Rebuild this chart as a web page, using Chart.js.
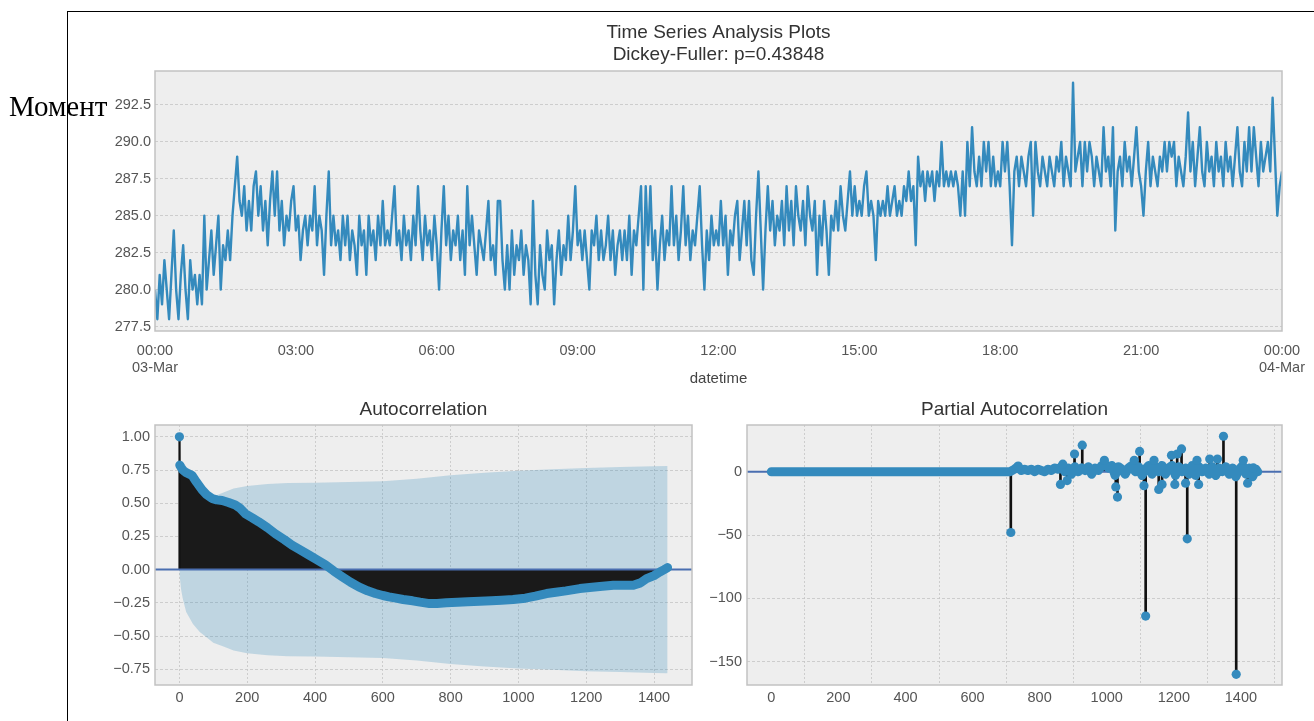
<!DOCTYPE html>
<html><head><meta charset="utf-8">
<script src="https://cdn.jsdelivr.net/npm/chart.js@4.4.1/dist/chart.umd.min.js"></script>
<style>
html,body{margin:0;padding:0;background:#fff;width:1314px;height:721px;overflow:hidden;}
body{position:relative;}
canvas{position:absolute;}
#c1{left:0;top:0;}
#c2{left:0;top:390px;}
#c3{left:700px;top:390px;}
#vline{position:absolute;left:67px;top:11px;width:1px;height:710px;background:#000;z-index:3;}
#hline{position:absolute;left:67px;top:11px;width:1247px;height:1px;background:#000;z-index:3;}
#moment{position:absolute;left:9px;top:92px;font-family:"Liberation Serif","Times New Roman",serif;font-size:29px;line-height:29px;color:#000;z-index:4;white-space:nowrap;}
</style></head>
<body>
<canvas id="c1" width="1314" height="390"></canvas>
<canvas id="c2" width="700" height="331"></canvas>
<canvas id="c3" width="614" height="331"></canvas>
<div id="vline"></div><div id="hline"></div>
<div id="moment">Момент</div>
<script>
// ---------- data ----------
const tsStepMinutes = 3;
const tsValues = [
 280,278,281,279,282,280,278,281,284,280,278,281,283,280,278,282,280,281,279,281,
 279,285,280,282,284,281,283,285,280,283,282,284,282,285,287,289,286,285,287,284,
 286,284,287,288,285,287,284,286,283,286,288,285,288,284,286,283,285,284,286,287,
 284,285,282,284,285,283,285,284,287,283,285,284,281,285,288,283,285,283,284,282,
 285,283,285,282,284,283,281,285,283,284,281,285,283,284,282,285,283,286,283,284,
 283,285,287,283,284,282,285,283,284,282,285,283,287,284,282,285,283,284,282,285,
 283,280,284,287,283,285,282,284,283,285,282,284,281,287,283,285,283,281,284,283,
 282,284,286,282,283,281,286,286,282,280,283,280,284,281,283,282,284,281,283,282,
 279,286,281,279,283,281,280,284,282,283,279,282,284,281,283,282,285,282,284,287,
 283,284,282,284,282,280,284,283,285,282,284,282,283,285,282,284,281,283,284,282,
 284,282,285,281,284,283,285,287,280,287,283,287,282,284,280,283,285,282,284,283,
 287,283,285,282,284,287,283,285,282,284,283,285,287,283,280,284,282,285,283,284,
 283,286,283,285,281,284,283,285,286,282,284,286,283,286,282,281,285,288,284,280,
 284,287,284,286,283,285,284,286,283,287,284,286,283,287,285,284,286,283,287,285,
 284,286,281,285,283,286,284,281,285,284,286,284,287,285,284,286,288,285,287,285,
 286,285,287,288,285,286,285,282,286,285,286,285,287,285,286,287,285,286,285,287,
 286,288,286,287,283,289,287,288,286,288,287,288,286,288,287,290,287,288,287,288,
 287,288,287,285,288,285,290,287,291,288,287,289,287,290,288,290,287,289,287,288,
 287,290,288,290,287,283,288,289,287,289,288,287,289,290,285,290,288,287,289,288,
 287,289,288,287,289,288,290,287,289,288,287,294,288,289,290,287,290,288,290,289,
 287,289,288,287,291,288,289,287,291,284,288,289,287,290,288,289,287,289,291,288,
 287,285,288,290,287,289,288,287,289,288,290,288,290,289,290,287,289,288,287,289,
 292,288,290,287,289,291,288,287,290,288,289,287,290,288,289,287,290,288,289,287,
 289,291,288,287,290,288,291,288,291,289,287,290,288,289,290,288,293,289,285,287,
 288];
const tsMinutes = tsValues.map((_, i) => i * tsStepMinutes);
const tsTickMinutes = [0,180,360,540,720,900,1080,1260,1440];
const tsTickLabels = [['00:00','03-Mar'],'03:00','06:00','09:00','12:00','15:00','18:00','21:00',['00:00','04-Mar']];
const tsYTicks = [277.5,280,282.5,285,287.5,290,292.5];
const titleLines = ['Time Series Analysis Plots','Dickey-Fuller: p=0.43848'];

const acfLags = [0,1,5,10,20,37,50,67,80,96,110,126,145,165,180,195,215,234,260,283,310,332,355,382,405,431,455,480,505,529,555,578,600,618,639,660,688,710,738,760,787,820,850,886,920,950,984,1020,1050,1083,1110,1140,1181,1210,1240,1280,1310,1339,1360,1378,1400,1417,1430,1440];
const acfValues = [1.0,0.787,0.77,0.75,0.73,0.71,0.66,0.60,0.565,0.536,0.525,0.52,0.505,0.486,0.46,0.42,0.39,0.36,0.315,0.27,0.225,0.185,0.15,0.11,0.075,0.035,-0.01,-0.053,-0.095,-0.13,-0.16,-0.18,-0.195,-0.205,-0.215,-0.225,-0.235,-0.245,-0.256,-0.255,-0.25,-0.246,-0.242,-0.238,-0.234,-0.23,-0.225,-0.215,-0.2,-0.18,-0.17,-0.16,-0.143,-0.135,-0.128,-0.118,-0.118,-0.118,-0.1,-0.068,-0.045,-0.018,0.0,0.015];
const confLags = [0,1,5,10,20,40,60,80,100,130,160,200,260,320,400,500,600,700,800,900,1000,1100,1200,1300,1400,1440];
const confHalfWidth = [0,0.052,0.15,0.22,0.32,0.41,0.47,0.51,0.55,0.58,0.61,0.63,0.645,0.652,0.655,0.66,0.665,0.685,0.71,0.73,0.745,0.755,0.765,0.772,0.778,0.78];
const lagTicks = [0,200,400,600,800,1000,1200,1400];
const acfYTicks = [-0.75,-0.5,-0.25,0,0.25,0.5,0.75,1.0];

const pacfClusterLags = [0,100,200,300,400,500,600,700,712,725,735,745,755,765,775,785,795,805,815,825,835,845,855,865,875,885,895,905,915,925,935,945,955,965,975,985,995,1005,1015,1025,1035,1045,1055,1065,1075,1085,1095,1105,1115,1125,1135,1145,1155,1165,1175,1185,1195,1205,1215,1225,1235,1245,1255,1265,1275,1285,1295,1305,1315,1325,1335,1345,1355,1365,1375,1385,1395,1405,1415,1425,1435,1445,1450];
const pacfClusterValues = [0,0,0,0,0,0,0,0,0,2,4,1,2,1,2,0,2,1,0,2,1,3,2,4,0,3,-2,4,0,3,1,4,-2,3,1,5,6,3,5,-3,4,2,-2,3,5,0,4,-3,2,5,-2,4,0,5,-2,3,5,-3,4,0,3,-2,5,-3,4,0,3,-2,4,-3,3,0,4,-2,3,-4,2,5,-2,3,-4,2,0];
const pacfSpikeLags = [714,736,862,869,882,904,927,993,1027,1032,1082,1098,1111,1116,1141,1155,1165,1193,1203,1210,1223,1235,1240,1269,1274,1307,1330,1348,1386,1407,1420,1437];
const pacfSpikeValues = [-48,4.5,-10,6,-7,14,21,9,-12,-20,9,16,-11,-114,9,-14,-10,13,-10,14,18,-9,-53,9,-10,10,10,28,-160,9,-9,3];
const pacfYTicks = [-150,-100,-50,0];

// ---------- styling helpers ----------
const FONT = "'Liberation Sans', Arial, Helvetica, sans-serif";
const BLUE = '#348ABD';
const ZERO = '#4a6eb0';
const tickFont = {family: FONT, size: 14.5};
const tickColor = '#555555';
const minus = v => String(v).replace('-', '\u2212');

const plotFrame = {
  id: 'plotFrame',
  beforeDraw(chart) {
    const {ctx, chartArea: a} = chart;
    ctx.save();
    ctx.fillStyle = '#eeeeee';
    ctx.fillRect(a.left, a.top, a.right - a.left, a.bottom - a.top);
    ctx.restore();
  },
  afterDraw(chart) {
    const {ctx, chartArea: a} = chart;
    ctx.save();
    ctx.strokeStyle = '#c2c2c2';
    ctx.lineWidth = 1.5;
    ctx.strokeRect(a.left, a.top, a.right - a.left, a.bottom - a.top);
    ctx.restore();
  }
};
// title centred over the plot area (as matplotlib does)
const centerTitle = {
  id: 'centerTitle',
  afterDraw(chart, args, o) {
    const {ctx, chartArea: a} = chart;
    ctx.save();
    ctx.font = o.size + 'px ' + FONT;
    ctx.fillStyle = o.color;
    ctx.textAlign = 'center';
    ctx.textBaseline = 'middle';
    o.lines.forEach((t, i) => ctx.fillText(t, (a.left + a.right) / 2, o.y + i * o.gap));
    ctx.restore();
  }
};

function fixedTicks(arr) {
  return scale => { scale.ticks = arr.map(v => ({value: v})); };
}
function gridOpts(show) {
  return {display: show, color: '#c4c4c4', lineWidth: 0.8, drawTicks: false};
}
const baseOpts = {responsive: false, animation: false, devicePixelRatio: 1, events: []};

// ---------- chart 1: time series ----------
new Chart(document.getElementById('c1'), {
  type: 'line',
  data: {
    datasets: [{
      data: tsValues.map((v, i) => ({x: tsMinutes[i], y: v})),
      borderColor: BLUE, borderWidth: 2.4, pointRadius: 0, tension: 0, fill: false,
      borderJoinStyle: 'round'
    }]
  },
  options: Object.assign({}, baseOpts, {
    layout: {padding: {left: 0, right: 32, top: 71, bottom: 0}},
    plugins: {
      legend: {display: false}, tooltip: {enabled: false}, title: {display: false},
      centerTitle: {lines: titleLines, y: 33, gap: 22, size: 19, color: '#333333'}
    },
    scales: {
      x: {type: 'linear', min: 0, max: 1440,
        afterBuildTicks: fixedTicks(tsTickMinutes),
        ticks: {autoSkip: false, maxRotation: 0, minRotation: 0, padding: 3, font: tickFont, color: tickColor,
          callback: (v) => tsTickLabels[tsTickMinutes.indexOf(v)]},
        grid: {display: false}, border: {display: false},
        title: {display: true, text: 'datetime', color: '#444444', font: {family: FONT, size: 15}, padding: {top: 0, bottom: 2}},
        afterFit(s) { s.height = 59; }
      },
      y: {min: 277.2, max: 294.8,
        afterBuildTicks: fixedTicks(tsYTicks),
        ticks: {padding: 4, font: tickFont, color: tickColor, callback: v => v.toFixed(1)},
        grid: gridOpts(true), border: {display: false, dash: [3, 2]},
        afterFit(s) { s.width = 155; }
      }
    }
  }),
  plugins: [plotFrame, centerTitle]
});

// ---------- chart 2: ACF ----------
new Chart(document.getElementById('c2'), {
  type: 'line',
  data: {
    datasets: [
      {type: 'scatter', data: [{x: acfLags[0], y: acfValues[0]}], pointRadius: 4.6, pointBackgroundColor: BLUE, pointBorderWidth: 0, order: 0},
      {data: acfLags.slice(1).map((l, i) => ({x: l, y: acfValues[i + 1]})), borderColor: BLUE, borderWidth: 9, pointRadius: 0, tension: 0, fill: false, borderCapStyle: 'round', borderJoinStyle: 'round', order: 1},
      {data: [{x: -72, y: 0}, {x: 1512, y: 0}], borderColor: ZERO, borderWidth: 2, pointRadius: 0, fill: false, order: 2},
      {data: [{x: acfLags[0], y: 0}, {x: acfLags[0], y: acfValues[0]}], borderColor: '#111111', borderWidth: 2, pointRadius: 0, fill: false, order: 3},
      {data: acfLags.map((l, i) => ({x: l, y: acfValues[i]})), borderColor: '#1a1a1a', borderWidth: 1, backgroundColor: '#1a1a1a', pointRadius: 0, tension: 0, fill: 'origin', order: 4},
      {data: confLags.map((l, i) => ({x: l, y: confHalfWidth[i]})), borderWidth: 0, borderColor: 'rgba(0,0,0,0)', backgroundColor: 'rgba(52,138,189,0.25)', pointRadius: 0, tension: 0, fill: '+1', order: 6},
      {data: confLags.map((l, i) => ({x: l, y: -confHalfWidth[i]})), borderWidth: 0, borderColor: 'rgba(0,0,0,0)', pointRadius: 0, tension: 0, fill: false, order: 7}
    ]
  },
  options: Object.assign({}, baseOpts, {
    layout: {padding: {left: 0, right: 8, top: 35, bottom: 0}},
    plugins: {
      legend: {display: false}, tooltip: {enabled: false}, title: {display: false},
      centerTitle: {lines: ['Autocorrelation'], y: 20, gap: 0, size: 19, color: '#333333'}
    },
    scales: {
      x: {type: 'linear', min: -72, max: 1512,
        afterBuildTicks: fixedTicks(lagTicks),
        ticks: {autoSkip: false, maxRotation: 0, padding: 4, font: tickFont, color: tickColor, callback: v => String(v)},
        grid: gridOpts(true), border: {display: false, dash: [2, 2]},
        afterFit(s) { s.height = 36; }
      },
      y: {min: -0.869, max: 1.089,
        afterBuildTicks: fixedTicks(acfYTicks),
        ticks: {padding: 5, font: tickFont, color: tickColor, callback: v => minus(v.toFixed(2))},
        grid: gridOpts(true), border: {display: false, dash: [3, 2]},
        afterFit(s) { s.width = 155; }
      }
    }
  }),
  plugins: [plotFrame, centerTitle]
});

// ---------- chart 3: PACF ----------
new Chart(document.getElementById('c3'), {
  type: 'line',
  data: {
    datasets: [
      {type: 'scatter', data: pacfSpikeLags.map((l, i) => ({x: l, y: pacfSpikeValues[i]})), pointRadius: 4.6, pointBackgroundColor: BLUE, pointBorderWidth: 0, order: 0},
      {data: pacfClusterLags.map((l, i) => ({x: l, y: pacfClusterValues[i]})), borderColor: BLUE, borderWidth: 9, pointRadius: 0, tension: 0, fill: false, borderCapStyle: 'round', borderJoinStyle: 'round', order: 1},
      {data: [{x: -72.5, y: 0}, {x: 1522.5, y: 0}], borderColor: ZERO, borderWidth: 2, pointRadius: 0, fill: false, order: 2},
      {type: 'bar', data: pacfSpikeLags.map((l, i) => ({x: l, y: pacfSpikeValues[i]})), backgroundColor: '#111111', barThickness: 2, order: 3}
    ]
  },
  options: Object.assign({}, baseOpts, {
    layout: {padding: {left: 0, right: 32, top: 35, bottom: 0}},
    plugins: {
      legend: {display: false}, tooltip: {enabled: false}, title: {display: false},
      centerTitle: {lines: ['Partial Autocorrelation'], y: 20, gap: 0, size: 19, color: '#333333'}
    },
    scales: {
      x: {type: 'linear', min: -72.5, max: 1522.5, offset: false,
        afterBuildTicks: fixedTicks(lagTicks),
        ticks: {autoSkip: false, maxRotation: 0, padding: 4, font: tickFont, color: tickColor, callback: v => String(v)},
        grid: gridOpts(true), border: {display: false, dash: [2, 2]},
        afterFit(s) { s.height = 36; }
      },
      y: {min: -168.4, max: 36.9,
        afterBuildTicks: fixedTicks(pacfYTicks),
        ticks: {padding: 5, font: tickFont, color: tickColor, callback: v => minus(v)},
        grid: gridOpts(true), border: {display: false, dash: [3, 2]},
        afterFit(s) { s.width = 47; }
      }
    }
  }),
  plugins: [plotFrame, centerTitle]
});
</script>
</body></html>
